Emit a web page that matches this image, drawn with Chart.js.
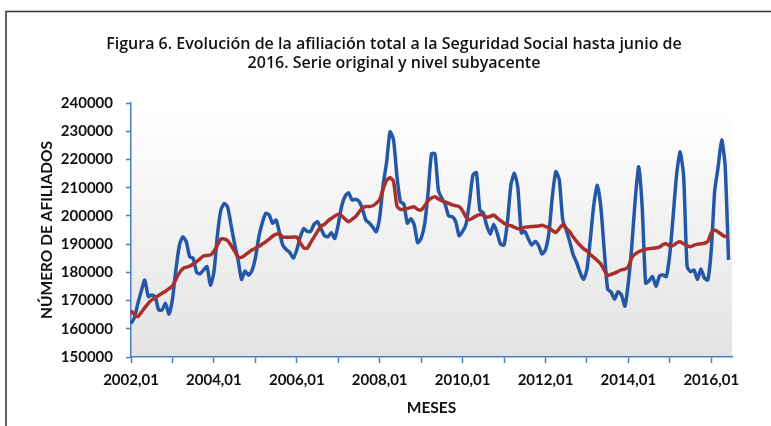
<!DOCTYPE html>
<html lang="es">
<head>
<meta charset="utf-8">
<title>Figura 6</title>
<script src="https://cdn.jsdelivr.net/npm/chart.js@4"></script>
<style>
  html, body { margin: 0; padding: 0; background: #fff; }
  #wrap { width: 771px; height: 426px; position: relative; }
</style>
</head>
<body>
<div id="wrap"><canvas id="afiliacionChart"></canvas></div>
<script>
// serie original (afiliados), enero 2002 - junio 2016
const serieOriginal = [
  161900,164000,169000,173500,177300,171400,172000,171400,166700,166700,169000,165200,
  170500,181000,189500,192600,190900,185500,185000,180000,179500,180800,182000,175500,
  180000,193000,202000,204400,203000,196500,190000,184400,177500,180500,179000,180500,
  185000,192500,197500,200900,200300,197400,198500,194000,189500,188000,187000,185000,
  188000,192500,195500,194500,194500,197000,197900,195500,193000,192600,194000,192000,
  197000,203500,207000,208200,205600,205900,205200,202500,198500,197500,196000,194400,
  199500,211000,219000,229800,227000,214000,205000,204200,197400,199000,196800,190500,
  192000,197000,208000,222000,222000,209000,206200,203900,199900,199700,198000,193000,
  194500,197000,205000,214500,215300,202000,201000,196500,193500,197000,194000,190000,
  189700,198000,211000,215100,210000,194000,194500,192000,189700,190900,189500,186500,
  188000,194000,207000,215700,212700,198500,195000,191000,186300,183500,180000,177500,
  181000,192000,204000,210900,203500,188000,174000,173000,170500,173100,172000,168000,
  176500,189500,206000,217400,203000,176200,177000,178500,175000,178700,179100,178500,
  186500,200500,215000,222700,214000,182000,180200,180800,177500,181200,178000,177300,
  188000,209000,217500,227000,218000,184400
];

// nivel subyacente
const nivelSubyacente = [
  166400,165000,164300,165800,167500,169000,170200,171000,171800,172600,173300,174200,
  175200,177500,179800,181300,181800,182200,183000,183800,184800,185800,186000,186100,
  187500,189500,191800,191800,191200,189500,187500,185500,185300,186100,187000,187900,
  188500,189200,190000,190800,191800,192800,193500,193500,192500,192400,192400,192500,
  192500,190500,188700,188500,190500,192500,194500,196300,197000,198200,199100,200000,
  200600,200000,198900,197900,198800,199700,201300,202800,203300,203300,203600,204500,
  205800,209500,212600,213500,212200,203500,202300,202300,202600,203000,203200,202300,
  202100,203500,205300,206300,206800,206000,205300,205000,204400,203900,203600,203300,
  201800,199500,198600,199300,200000,200500,200300,199600,199800,200300,199300,198300,
  197400,196800,196500,196000,195500,195300,196000,196100,196200,196300,196400,196700,
  196200,195700,194800,194100,195500,196900,195600,194400,192600,191000,189600,188400,
  187600,186300,185300,184200,183000,180800,178900,179300,179700,180300,180900,181100,
  182000,185200,186500,187300,187800,188200,188400,188500,188700,188900,189800,190100,
  189300,189500,190400,190800,190100,189500,189100,189600,190000,190100,190300,190900,
  194000,195000,194300,193400,192700,193000
];

// meses "aaaa,mm" (el eje llega hasta 2016,07)
const meses = [];
for (let a = 2002; a <= 2016; a++) {
  for (let m = 1; m <= 12; m++) {
    if (meses.length < 175) meses.push(a + "," + String(m).padStart(2, "0"));
  }
}

const ticksY = [150000,160000,170000,180000,190000,200000,210000,220000,230000,240000];

const titulo = [
  "Figura 6. Evolución de la afiliación total a la Seguridad Social hasta junio de",
  "2016. Serie original y nivel subyacente"
];

const azulEje = "#4a7cc4";
const fuente = "Lato, 'Open Sans', sans-serif";

const decorado = {
  id: "decorado",
  beforeDraw(chart) {
    const {ctx, chartArea: a} = chart;
    ctx.save();
    const g = ctx.createLinearGradient(0, a.top, 0, a.bottom);
    g.addColorStop(0, "#ffffff");
    g.addColorStop(1, "#e3e3e3");
    ctx.fillStyle = g;
    ctx.fillRect(a.left, a.top, a.right - a.left, a.bottom - a.top);

    ctx.strokeStyle = "#333";
    ctx.lineWidth = 1.5;
    ctx.beginPath();
    ctx.moveTo(6, 426);
    ctx.lineTo(6, 11.5);
    ctx.lineTo(771, 11.5);
    ctx.stroke();
    ctx.restore();
  },
  afterDraw(chart) {
    const ctx = chart.ctx;
    ctx.save();
    ctx.fillStyle = "#111";
    ctx.font = "600 16px 'Open Sans', sans-serif";
    ctx.textAlign = "center";
    ctx.textBaseline = "alphabetic";
    ctx.fillText(titulo[0], 394, 49);
    ctx.fillText(titulo[1], 394, 68);
    ctx.restore();
  }
};

new Chart(
    document.getElementById("afiliacionChart"),
    {
        type: "line",

        data: {
            labels: meses,
            datasets: [
                {
                    label: "Serie original",
                    data: serieOriginal,
                    borderColor: "#2458a6",
                    borderWidth: 3.5,
                    pointRadius: 0,
                    tension: 0.2,
                    order: 2
                },
                {
                    label: "Nivel subyacente",
                    data: nivelSubyacente,
                    borderColor: "#a8302b",
                    borderWidth: 3.5,
                    pointRadius: 0,
                    tension: 0.2,
                    order: 1
                }
            ]
        },

        options: {
            responsive: true,
            maintainAspectRatio: false,
            animation: false,
            layout: {
                padding: {top: 103, left: 30, right: 39, bottom: 0}
            },
            plugins: {
                legend: {display: false},
                tooltip: {enabled: false}
            },
            scales: {
                x: {
                    type: "category",
                    offset: false,
                    afterFit(scale) { scale.height = 69; },
                    border: {color: azulEje, width: 1.5},
                    grid: {
                        drawOnChartArea: false,
                        tickLength: 6,
                        tickWidth: 1.5,
                        color: (c) => c.index % 12 === 0 ? azulEje : "rgba(0,0,0,0)"
                    },
                    ticks: {
                        autoSkip: false,
                        maxRotation: 0,
                        padding: 8,
                        color: "#111",
                        font: {family: fuente, size: 15, weight: "bold"},
                        callback: (v, i) => i % 24 === 0 ? meses[i] : ""
                    },
                    title: {
                        display: true,
                        text: "MESES",
                        color: "#111",
                        font: {family: fuente, size: 15.5, weight: "bold"},
                        padding: {top: 0, bottom: 9}
                    }
                },
                y: {
                    min: 150000,
                    max: 240000,
                    afterFit(scale) { scale.width = 101; },
                    afterBuildTicks(scale) { scale.ticks = ticksY.map(v => ({value: v})); },
                    border: {color: azulEje, width: 1.5},
                    grid: {
                        drawOnChartArea: false,
                        tickLength: 5,
                        tickWidth: 1.5,
                        color: azulEje
                    },
                    ticks: {
                        padding: 13,
                        color: "#111",
                        font: {family: fuente, size: 15, weight: "bold"},
                        callback: (v) => String(v)
                    },
                    title: {
                        display: true,
                        text: "NÚMERO DE AFILIADOS",
                        color: "#111",
                        font: {family: fuente, size: 15.5, weight: "bold"},
                        padding: {top: 8, bottom: 0}
                    }
                }
            }
        },
        plugins: [decorado]
    }
);
</script>
</body>
</html>
